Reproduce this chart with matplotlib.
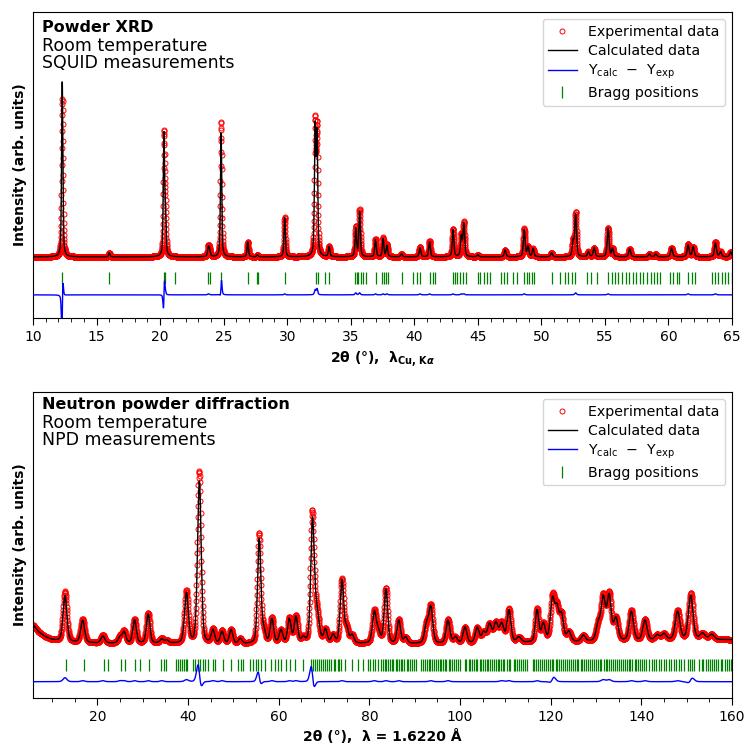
import numpy as np
import matplotlib
matplotlib.use('Agg')
import matplotlib.pyplot as plt
from matplotlib.lines import Line2D

# ---- XRD (Cu K-alpha) peaks: position, calculated height, observed height, fwhm
xrd_pos  = [12.30, 16.00, 20.30, 20.42, 23.80, 23.90, 24.80, 26.90, 27.65, 29.80,
            32.20, 32.35, 33.30, 35.40, 35.70, 36.95, 37.55, 37.85, 39.00, 40.45,
            41.20, 43.05, 43.70, 43.90, 45.00, 47.15, 48.65, 48.95, 49.35, 50.80,
            52.50, 52.70, 53.70, 54.15, 55.25, 55.60, 56.95, 58.50, 59.00, 60.25,
            61.55, 61.95, 63.70, 64.10, 64.90]
xrd_calc = [175, 4, 120, 40, 9, 5, 124, 15, 2, 39,
            125, 118, 10, 28, 45, 17, 18, 11, 3, 9,
            15, 27, 20, 33, 2, 7, 27, 10, 8, 4,
            15, 42, 5, 9, 28, 8, 8, 3, 3, 9,
            12, 10, 14, 5, 5]
xrd_obs  = [158, 4, 120, 42, 10, 5, 135, 15, 2, 40,
            130, 124, 10, 30, 47, 18, 19, 12, 3, 10,
            16, 28, 21, 34, 2, 7, 28, 10, 8, 4,
            15, 44, 5, 9, 29, 8, 8, 3, 3, 9,
            13, 10, 15, 5, 5]
xrd_fwhm = [0.12, 0.12, 0.12, 0.12, 0.15, 0.15, 0.12, 0.13, 0.13, 0.13,
            0.13, 0.13, 0.14, 0.14, 0.14, 0.14, 0.14, 0.14, 0.15, 0.15,
            0.15, 0.15, 0.15, 0.15, 0.15, 0.16, 0.16, 0.16, 0.16, 0.16,
            0.16, 0.16, 0.17, 0.17, 0.17, 0.17, 0.17, 0.17, 0.17, 0.18,
            0.18, 0.18, 0.18, 0.18, 0.18]
xrd_obs_shift = [0.012, 0, 0.010, 0, 0, 0, 0.004, 0, 0, 0,
                 0, 0, 0, 0, 0, 0, 0, 0, 0, 0,
                 0, 0, 0, 0, 0, 0, 0, 0, 0, 0,
                 0, 0, 0, 0, 0, 0, 0, 0, 0, 0,
                 0, 0, 0, 0, 0]

xrd_bragg = [12.3, 16.0, 20.3, 20.4, 21.2, 23.8, 23.9, 24.8, 26.9, 27.6, 27.7, 29.8,
             32.3, 32.4, 33.0, 33.3, 35.3, 35.5, 35.6, 35.8, 36.0, 36.2, 37.0,
             37.43, 37.6, 37.75, 37.96, 39.0, 39.9, 40.2, 40.45, 41.2, 41.44, 41.63,
             43.02, 43.2, 43.38, 43.6, 43.8, 44.07, 44.98, 45.17, 45.48, 45.75, 45.95,
             46.8, 47.06, 47.27, 47.8, 48.1, 48.63, 48.84, 49.05, 49.23, 49.42, 50.8,
             51.46, 51.86, 52.12, 52.38, 52.64, 53.56, 53.87, 54.4,
             55.27, 55.53, 55.79, 56.05, 56.31, 56.65, 56.92, 57.18, 57.44, 57.76,
             58.02, 58.28, 58.6, 58.86, 59.07, 59.33, 60.12, 60.38, 60.64, 60.85,
             61.56, 61.82, 62.08, 63.4, 63.66, 63.92, 64.18, 64.44, 64.71, 64.97]

# ---- Neutron (lambda = 1.6220 A) peaks
npd_pos  = [12.85, 16.75, 21.2, 25.0, 25.9, 28.2, 31.2, 34.2, 35.3, 39.65,
            42.5, 45.5, 47.5, 49.5, 51.5, 55.7, 56.7, 58.5, 60.5, 62.35,
            63.8, 65.4, 67.45, 68.4, 70.3, 72.0, 73.95, 75.0, 76.2, 81.1,
            82.0, 83.65, 86.5, 88.0, 92.6, 93.55, 97.35, 99.0, 101.1, 103.8,
            105.2, 106.5, 107.9, 109.2, 110.8, 113.0, 117.0, 118.4, 120.4, 121.4,
            122.4, 124.0, 127.2, 130.5, 131.6, 132.9, 134.4, 137.8, 140.8, 143.5,
            145.0, 148.0, 150.9, 153.5, 155.5]
npd_calc = [46, 22, 7, 6, 11, 23, 29, 4, 3, 50,
            162, 13, 12, 14, 5, 104, 12, 24, 13, 24,
            26, 5, 120, 30, 13, 8, 63, 14, 8, 31,
            10, 54, 23, 6, 18, 36, 23, 6, 16, 15,
            10, 18, 19, 18, 32, 5, 32, 18, 42, 30,
            26, 10, 6, 16, 42, 44, 22, 29, 20, 5,
            6, 28, 44, 6, 5]
npd_obs  = [50, 23, 8, 7, 12, 24, 30, 5, 3, 52,
            172, 14, 13, 14, 5, 110, 12, 25, 13, 25,
            27, 5, 128, 30, 13, 8, 64, 14, 8, 32,
            10, 55, 24, 6, 18, 37, 24, 6, 16, 15,
            10, 18, 19, 19, 33, 5, 33, 18, 45, 30,
            26, 10, 6, 16, 44, 46, 22, 30, 21, 5,
            6, 29, 46, 6, 5]
npd_fwhm = [1.0, 1.0, 1.0, 0.9, 0.9, 0.9, 0.9, 0.9, 0.9, 1.0,
            0.95, 0.9, 0.9, 0.9, 0.9, 0.85, 0.9, 0.9, 0.9, 0.9,
            0.9, 0.9, 0.9, 1.2, 0.9, 0.9, 0.9, 0.9, 0.9, 1.0,
            1.0, 0.9, 0.9, 0.9, 1.0, 1.0, 1.0, 1.0, 1.0, 1.0,
            1.0, 1.1, 1.1, 1.1, 1.0, 1.1, 0.9, 1.0, 1.1, 1.0,
            1.0, 1.1, 1.1, 1.1, 1.1, 1.1, 1.1, 1.1, 1.1, 1.2,
            1.2, 1.2, 1.2, 1.3, 1.3]
npd_obs_shift = [0, 0, 0, 0, 0, 0, 0, 0, 0, 0,
                 -0.04, 0, 0, 0, 0, -0.03, 0, 0, 0, 0,
                 0, 0, -0.05, 0, 0, 0, 0, 0, 0, 0,
                 0, 0, 0, 0, 0, 0, 0, 0, 0, 0,
                 0, 0, 0, 0, 0, 0, 0, 0, 0.04, 0,
                 0, 0, 0, 0, 0, 0, 0, 0, 0, 0,
                 0, 0, 0.04, 0, 0]
npd_bg_x = [5.8, 7, 8.5, 10, 13, 20, 30, 40, 50, 60, 70, 80, 90, 100, 110, 120, 130, 140, 150, 160]
npd_bg_y = [20, 13, 8, 5, 3, 1.5, 1.5, 1, 0.5, 1, 1, 1, 1, 1, 2, 2, 3, 4, 5, 5]

npd_bragg = [13.0, 17.0, 21.4, 22.3, 25.1, 26.0, 28.4, 29.3, 31.4, 34.1, 34.8, 35.2,
             37.4, 37.8, 38.3, 38.6, 39.0, 39.5, 39.8, 41.1, 41.6, 42.3, 42.6, 43.2, 43.8, 44.4,
             45.5, 46.0, 47.7, 49.5, 51.0, 51.6, 52.1, 53.6, 54.3, 55.1, 55.4, 56.2, 57.0,
             58.4, 59.1, 59.8, 60.6, 61.7, 62.4, 63.7, 65.3,
             67.2, 67.6, 68.0, 68.5, 68.9, 69.4, 69.8, 70.3, 70.7, 71.2, 71.6, 72.1, 72.5,
             73.0, 73.4, 73.8, 74.7, 76.2, 77.5, 78.6, 79.7, 80.2, 80.8, 81.3, 81.9, 82.5,
             83.0, 83.4, 83.7, 84.1, 84.6, 84.9, 85.3, 85.8, 86.1, 86.5, 87.0, 87.3, 87.7,
             88.2, 88.5, 88.9, 89.4, 89.8, 90.2,
             91.5, 91.9, 92.2, 92.7, 93.1, 93.4, 93.9, 94.3, 94.6, 95.1, 95.5, 95.8, 96.3,
             96.7, 97.0, 97.5, 97.9, 98.2, 98.7, 99.1, 99.5, 99.9,
             101.0, 101.4, 101.9, 102.3, 102.6, 103.1, 103.5, 103.8, 104.3, 104.7, 105.0,
             105.5, 105.9, 106.2, 106.7, 107.1, 107.4, 107.9, 108.3, 108.6, 109.1, 109.5,
             109.8, 110.3, 110.7, 111.0,
             111.8, 112.2, 112.6, 113.0, 113.5, 113.9, 114.3, 114.8,
             116.0, 116.4, 116.8, 117.2, 117.7, 118.1, 118.5, 118.9, 119.4, 119.8, 120.2,
             120.6, 121.1, 121.5, 121.9, 122.3, 122.7, 123.2, 123.6, 124.0, 124.4, 124.9,
             125.3, 125.7, 126.1, 126.6, 127.0, 127.4, 127.8, 128.3, 128.7, 129.1, 129.5,
             130.0, 130.4, 130.8, 131.2, 131.7, 132.1, 132.5, 132.9, 133.4, 133.8, 134.2,
             134.6, 135.1, 135.5, 135.9, 136.3, 136.8, 137.2, 137.6, 138.0, 138.5, 138.9,
             139.3, 139.7, 140.2, 140.6, 141.0,
             141.8, 142.3, 142.8, 143.3, 143.9, 144.4, 145.0, 145.5, 146.1, 146.6, 147.2,
             147.7, 148.3, 148.8, 149.4, 150.2, 150.7, 151.2, 151.7,
             152.8, 153.3, 153.7, 154.2, 154.7, 155.1, 155.6, 156.1, 156.5, 157.0, 157.5,
             157.9, 158.4, 158.9, 159.3, 159.8]


def pseudo_voigt(x, x0, w, eta=0.5):
    d = (x - x0) / w
    return eta / (1 + 4 * d**2) + (1 - eta) * np.exp(-4 * np.log(2) * d**2)


def profile(x, pos, hts, fwhm, shift=None, eta=0.5):
    y = np.zeros_like(x)
    for i in range(len(pos)):
        s = shift[i] if shift is not None else 0.0
        y += hts[i] * pseudo_voigt(x, pos[i] + s, fwhm[i], eta)
    return y


def draw_panel(ax, x, yobs, ycal, bragg, bragg_y, diff_off, ylim, xlim):
    ax.plot(x, yobs, 'o', mfc='none', mec='red', ms=3.6, mew=0.7, zorder=2)
    ax.plot(x, ycal, '-', color='black', lw=1.0, zorder=3)
    ax.plot(x, yobs - ycal + diff_off, '-', color='blue', lw=1.0, zorder=3)
    ax.plot(bragg, np.full(len(bragg), bragg_y), '|', color='green', ms=8, mew=0.9, zorder=2)
    ax.set_xlim(*xlim)
    ax.set_ylim(*ylim)
    ax.set_yticks([])
    ax.set_ylabel('Intensity (arb. units)', fontsize=10, fontweight='bold')
    ax.tick_params(axis='x', which='major', length=5, labelsize=10)
    ax.tick_params(axis='x', which='minor', length=2.8)
    handles = [Line2D([], [], ls='none', marker='o', mfc='none', mec='red', ms=3.6, mew=0.7),
               Line2D([], [], color='black', lw=1.0),
               Line2D([], [], color='blue', lw=1.0),
               Line2D([], [], ls='none', marker='|', color='green', ms=8, mew=0.9)]
    labels = ['Experimental data', 'Calculated data',
              r'Y$_{\rm calc}$  $-$  Y$_{\rm exp}$', 'Bragg positions']
    ax.legend(handles, labels, loc='upper right', fontsize=10.2, numpoints=1,
              labelspacing=0.35)


fig = plt.figure(figsize=(7.47, 7.47), dpi=100)
ax1 = fig.add_axes([0.0442, 0.5745, 0.9357, 0.4095])
ax2 = fig.add_axes([0.0442, 0.0660, 0.9357, 0.4095])

# top: XRD
x1 = np.arange(10.0, 65.0001, 0.01)
ycal1 = profile(x1, xrd_pos, xrd_calc, xrd_fwhm)
yobs1 = profile(x1, xrd_pos, xrd_obs, xrd_fwhm, shift=xrd_obs_shift)
draw_panel(ax1, x1, yobs1, ycal1, xrd_bragg, -21, -38, (-61, 245), (10, 65))
ax1.set_xticks(np.arange(10, 66, 5))
ax1.set_xticks(np.arange(10, 66, 1), minor=True)
ax1.set_xlabel(r'2θ (°),  λ$_{\mathbf{Cu,\,K}\boldsymbol{\alpha}}$', fontsize=10, fontweight='bold')
ax1.text(0.0133, 0.935, 'Powder XRD', transform=ax1.transAxes, fontsize=11.5,
         fontweight='bold', va='baseline')
ax1.text(0.0133, 0.918, 'Room temperature\nSQUID measurements', transform=ax1.transAxes,
         fontsize=12.5, va='top', linespacing=0.93)

# bottom: neutron
x2 = np.arange(5.8, 160.0001, 0.05)
bg2 = np.interp(x2, npd_bg_x, npd_bg_y)
ycal2 = bg2 + profile(x2, npd_pos, npd_calc, npd_fwhm, eta=0.3)
yobs2 = bg2 + profile(x2, npd_pos, npd_obs, npd_fwhm, shift=npd_obs_shift, eta=0.3)
draw_panel(ax2, x2, yobs2, ycal2, npd_bragg, -20, -37, (-53, 253), (5.8, 160))
ax2.set_xticks(np.arange(20, 161, 20))
ax2.set_xticks(np.arange(10, 161, 5), minor=True)
ax2.set_xlabel('2θ (°),  λ = 1.6220 Å', fontsize=10, fontweight='bold')
ax2.text(0.0133, 0.943, 'Neutron powder diffraction', transform=ax2.transAxes, fontsize=11.5,
         fontweight='bold', va='baseline')
ax2.text(0.0133, 0.928, 'Room temperature\nNPD measurements', transform=ax2.transAxes,
         fontsize=12.5, va='top', linespacing=0.93)

fig.savefig('out.png', dpi=100)
